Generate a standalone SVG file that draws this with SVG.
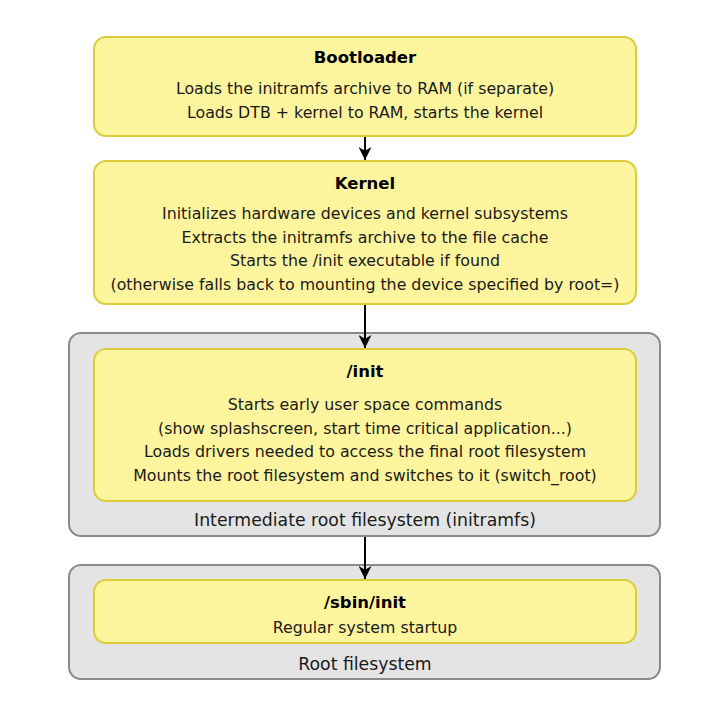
<svg xmlns="http://www.w3.org/2000/svg" width="728" height="708" viewBox="0 0 728 708">
  <defs>
    <marker id="arrow" viewBox="0 0 12 12" refX="12" refY="6" markerWidth="13" markerHeight="13" markerUnits="userSpaceOnUse" orient="auto">
      <path d="M0,0 L12,6 L0,12 L3.5,6 z" fill="#000"/>
    </marker>
    <style>
      .stage { fill: #fdf59e; stroke: #dccb3a; stroke-width: 2; }
      .fs { fill: #e4e4e4; stroke: #8a8a8a; stroke-width: 2; }
      text { font-family: "DejaVu Sans", "Liberation Sans", sans-serif; font-size: 15.8px; fill: #1a1a1a; text-anchor: middle; }
      .title { font-weight: bold; font-size: 16.5px; fill: #000; }
      .label { font-size: 17.3px; }
      .conn { stroke: #000; stroke-width: 2; fill: none; marker-end: url(#arrow); }
    </style>
  </defs>
  <rect width="728" height="708" fill="#fff"/>

  <!-- filesystem containers -->
  <g id="initramfs-fs">
    <rect class="fs" x="69" y="333" width="591" height="203" rx="12"/>
    <text class="label" x="365" y="526">Intermediate root filesystem (initramfs)</text>
  </g>
  <g id="root-fs">
    <rect class="fs" x="69" y="565" width="591" height="114" rx="12"/>
    <text class="label" x="365" y="670">Root filesystem</text>
  </g>

  <!-- boot stages -->
  <g id="bootloader">
    <rect class="stage" x="94" y="37" width="542" height="99" rx="12"/>
    <text class="title" x="365" y="63">Bootloader</text>
    <text x="365" y="94">Loads the initramfs archive to RAM (if separate)</text>
    <text x="365" y="118">Loads DTB + kernel to RAM, starts the kernel</text>
  </g>
  <g id="kernel">
    <rect class="stage" x="94" y="161" width="542" height="143" rx="12"/>
    <text class="title" x="365" y="189">Kernel</text>
    <text x="365" y="219">Initializes hardware devices and kernel subsystems</text>
    <text x="365" y="243">Extracts the initramfs archive to the file cache</text>
    <text x="365" y="266">Starts the /init executable if found</text>
    <text x="365" y="290">(otherwise falls back to mounting the device specified by root=)</text>
  </g>
  <g id="init">
    <rect class="stage" x="94" y="349" width="542" height="152" rx="12"/>
    <text class="title" x="365" y="377">/init</text>
    <text x="365" y="410">Starts early user space commands</text>
    <text x="365" y="434">(show splashscreen, start time critical application...)</text>
    <text x="365" y="457">Loads drivers needed to access the final root filesystem</text>
    <text x="365" y="481">Mounts the root filesystem and switches to it (switch_root)</text>
  </g>
  <g id="sbin-init">
    <rect class="stage" x="94" y="580" width="542" height="63" rx="12"/>
    <text class="title" x="365" y="608">/sbin/init</text>
    <text x="365" y="633">Regular system startup</text>
  </g>

  <!-- connectors -->
  <g id="connectors">
    <line class="conn" x1="365" y1="137" x2="365" y2="160"/>
    <line class="conn" x1="365" y1="305" x2="365" y2="348"/>
    <line class="conn" x1="365" y1="537" x2="365" y2="579"/>
  </g>
</svg>
